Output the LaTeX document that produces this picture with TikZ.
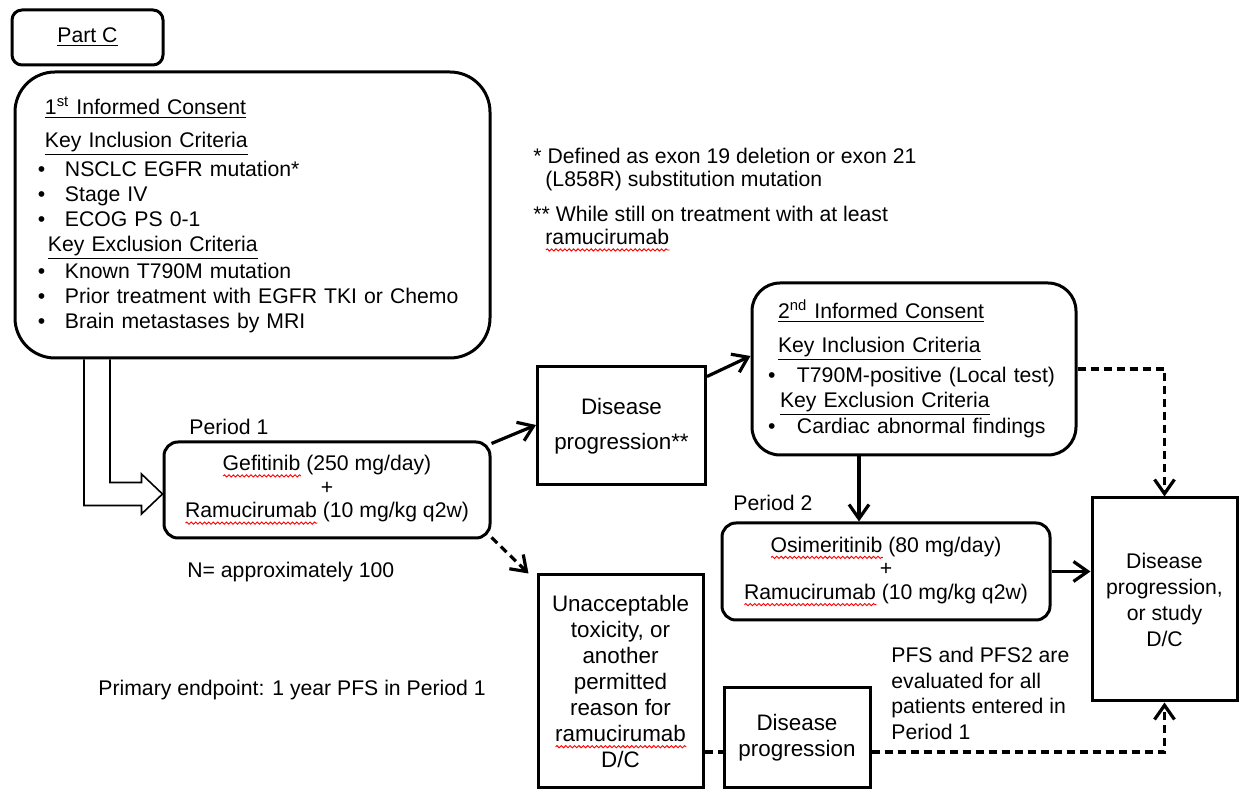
\documentclass[tikz,border=0pt]{standalone}
\usepackage{fontspec}
\setmainfont{Liberation Sans}
\usetikzlibrary{arrows.meta,positioning,calc,decorations.pathmorphing}

% red wavy mark under words the spell checker flagged
\newsavebox\spellbox
\newcommand\spellmark[1]{\sbox\spellbox{#1}\rlap{\raisebox{-2.6pt}{\tikz[baseline=0pt]\draw[red,sharp corners,line width=0.45pt,decorate,decoration={snake,amplitude=0.55pt,segment length=2.2pt}] (0pt,0pt) -- (\wd\spellbox,0pt);}}#1}
\newcommand\bul[1][13.5pt]{\makebox[#1][l]{\textbullet}}

\begin{document}
\begin{tikzpicture}[
  x=0.5pt,y=-0.5pt,
  every node/.style={font=\fontsize{10.6}{12.5}\selectfont},
  rbox/.style={draw,line width=1.5pt,rounded corners=7pt,align=center,inner sep=0pt},
  sqbox/.style={draw,line width=1.5pt,align=center,inner sep=0pt,font=\fontsize{11.2}{13}\selectfont},
  drug/.style={rbox,font=\fontsize{10.6}{11.8}\selectfont},
  lbl/.style={anchor=west,inner sep=0pt,align=left},
  flow/.style={-{Straight Barb[length=2.5mm,width=3.5mm]},line width=1.6pt},
  dflow/.style={flow,dash pattern=on 4pt off 2.5pt},
  dline/.style={line width=1.6pt,dash pattern=on 4pt off 2.5pt},
  hollow/.style={line width=0.8pt}
]
  \useasboundingbox (0,0) rectangle (1239,790);

  \node[rbox,rounded corners=5pt,minimum width=75.5pt,minimum height=27.5pt] (partc) at (87.5,37.5) {\underline{Part C}};

  \node[rbox,rounded corners=20pt,minimum width=237.5pt,minimum height=143pt,text width=214.5pt,inner xsep=11.5pt,align=left] (consent1) at (252.5,215) {%
    \hspace*{3.5pt}\underline{1\textsuperscript{st} Informed Consent}\\[4pt]
    \hspace*{3.5pt}\underline{Key Inclusion Criteria}\\[2pt]
    \bul NSCLC EGFR mutation*\\
    \bul Stage IV\\
    \bul ECOG PS 0-1\\
    \hspace*{5pt}\underline{Key Exclusion Criteria}\\[1pt]
    \bul Known T790M mutation\\
    \bul Prior treatment with EGFR TKI or Chemo\\
    \bul Brain metastases by MRI};

  \node[lbl,anchor=north west,font=\fontsize{10.6}{11.5}\selectfont] (notes) at (533,148) {%
    * Defined as exon 19 deletion or exon 21\\
    \hspace*{6pt}(L858R) substitution mutation\\[6pt]
    ** While still on treatment with at least\\
    \hspace*{6pt}\spellmark{ramucirumab}};

  \node[drug,minimum width=163pt,minimum height=48pt] (gef) at (327,490) {%
    \spellmark{Gefitinib} (250 mg/day)\\ +\\ \spellmark{Ramucirumab} (10 mg/kg q2w)};
  \node[lbl] (per1) at (189,427) {Period 1};
  \node[lbl] (ncount) at (187,572) {N= approximately 100};
  \node[lbl] (primary) at (98,690) {Primary endpoint: 1 year PFS in Period 1};

  \node[sqbox,minimum width=84pt,minimum height=59pt] (dp1) at (621.5,426) {Disease\\[4.5pt]progression**};

  \node[rbox,rounded corners=14pt,minimum width=162pt,minimum height=86pt,text width=146pt,inner xsep=8pt,align=left] (consent2) at (914,369) {%
    \hspace*{5pt}\underline{2\textsuperscript{nd} Informed Consent}\\[4.5pt]
    \hspace*{5pt}\underline{Key Inclusion Criteria}\\[2.5pt]
    \bul[14.5pt]T790M-positive (Local test)\\
    \hspace*{6pt}\underline{Key Exclusion Criteria}\\[0.5pt]
    \bul[14.5pt]Cardiac abnormal findings};

  \node[drug,minimum width=164pt,minimum height=48.5pt] (osim) at (886,571.5) {%
    \spellmark{Osimeritinib} (80 mg/day)\\ +\\ \spellmark{Ramucirumab} (10 mg/kg q2w)};
  \node[lbl] (per2) at (733,503) {Period 2};

  \node[sqbox,font=\fontsize{10.6}{13}\selectfont,minimum width=72.5pt,minimum height=101.5pt] (final) at (1164.5,599.5) {Disease\\progression,\\or study\\D/C};

  \node[sqbox,minimum width=82.5pt,minimum height=106.5pt] (unacc) at (620.5,681.5) {%
    Unacceptable\\toxicity, or\\another\\permitted\\reason for\\\spellmark{ramucirumab}\\D/C};

  \node[sqbox,minimum width=73pt,minimum height=50pt] (dp2) at (797,738) {Disease\\progression};

  \node[lbl,anchor=north west,font=\fontsize{10.6}{12.8}\selectfont] (pfs) at (891,647) {%
    PFS and PFS2 are\\evaluated for all\\patients entered in\\Period 1};

  % hollow bent arrow into period 1
  \coordinate (tip) at ([yshift=-2pt]gef.west);
  \draw[hollow] (consent1.south -| 84,0) |- ([xshift=-10.5pt,yshift=-5.75pt]tip)
    -- ([xshift=-10.5pt,yshift=-10pt]tip) -- (tip)
    -- ([xshift=-10.5pt,yshift=10pt]tip) -- ([xshift=-10.5pt,yshift=5.75pt]tip)
    -| (consent1.south -| 110,0);

  \draw[flow] ([yshift=-1.5pt]gef.north east) -- ([yshift=0.5pt]dp1.west);
  \draw[flow] ([yshift=-5.5pt]dp1.north east) -- ([yshift=6.5pt]consent2.west);
  \draw[dflow] ([yshift=1pt]gef.south east) -- ([xshift=-4pt]unacc.north west);
  \draw[flow] ([xshift=-27.5pt]consent2.south) -- ([xshift=-27.5pt]consent2.south |- osim.north);
  \draw[dflow] (consent2.east) -| (final.north);
  \draw[flow] (osim.east) -- (osim.east -| final.west);
  \draw[dline] ([yshift=-7pt]dp2.west -| unacc.east) -- ([yshift=-7pt]dp2.west);
  \draw[dflow] ([yshift=-7pt]dp2.east) -| (final.south);
\end{tikzpicture}
\end{document}
